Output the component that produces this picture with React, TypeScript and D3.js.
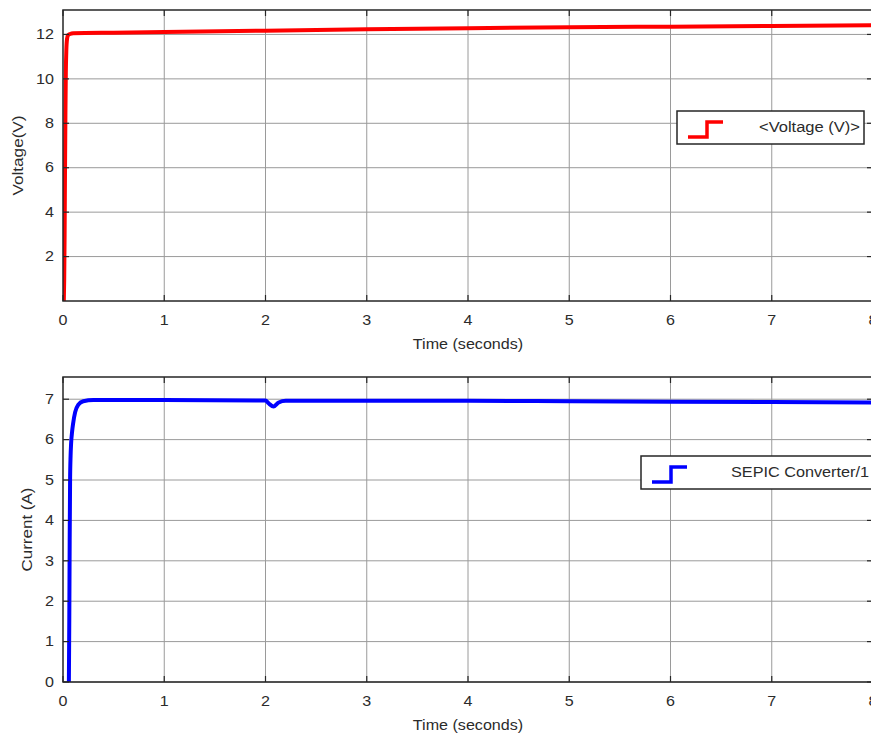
import React from "react";
import * as d3 from "d3";

const xTicks = [0, 1, 2, 3, 4, 5, 6, 7, 8];
const voltageTicks = [2, 4, 6, 8, 10, 12];
const currentTicks = [0, 1, 2, 3, 4, 5, 6, 7];

const voltageTime = [0.008, 0.012, 0.016, 0.02, 0.024, 0.028, 0.033, 0.04, 0.05, 0.07, 0.1, 0.5, 1, 2, 3, 4, 5, 6, 7, 8];
const voltageValues = [0, 1, 3, 6, 8.5, 10.3, 11.3, 11.8, 11.97, 12.02, 12.05, 12.08, 12.11, 12.17, 12.23, 12.28, 12.32, 12.35, 12.38, 12.41];

const currentTime = [0.058, 0.062, 0.066, 0.07, 0.075, 0.08, 0.09, 0.1, 0.12, 0.15, 0.2, 0.3, 1, 2, 2.03, 2.08, 2.13, 2.2, 3, 4, 5, 6, 7, 8];
const currentValues = [0, 1.5, 3.5, 5.0, 5.6, 5.9, 6.2, 6.4, 6.68, 6.86, 6.95, 6.98, 6.98, 6.97, 6.9, 6.82, 6.92, 6.96, 6.96, 6.96, 6.95, 6.94, 6.93, 6.92];

const FONT = "'Liberation Sans', Arial, sans-serif";
const SX = 1.15;

const x = d3.scaleLinear().domain([0, 8]).range([63, 873]);
const yV = d3.scaleLinear().domain([0, 13.1]).range([301, 10]);
const yC = d3.scaleLinear().domain([0, 7.55]).range([682, 377]);

function T({ x, y, children, anchor = "middle" }: any) {
  return (
    <g transform={`translate(${x},${y}) scale(${SX},1)`}>
      <text x={0} y={0} textAnchor={anchor} dominantBaseline="middle" fontFamily={FONT} fontSize={14} fill="#2b2b2b">
        {children}
      </text>
    </g>
  );
}

function Panel({ y, yTicks, times, values, color, yLabel, yLabelX, yLabelLen, legend, id }: any) {
  const [yb, yt] = y.range();
  const [xl, xr] = x.range();
  const line = d3
    .line<number>()
    .x((_, i) => x(times[i]))
    .y((v) => y(v))
    .curve(d3.curveMonotoneX);
  const tl = 6;
  const yMid = (yb + yt) / 2;
  return (
    <g>
      <defs>
        <clipPath id={id}>
          <rect x={xl} y={yt} width={xr - xl} height={yb - yt} />
        </clipPath>
      </defs>
      {xTicks.slice(1, -1).map((t) => (
        <line key={"gx" + t} x1={x(t)} x2={x(t)} y1={yt} y2={yb} stroke="#9a9a9a" strokeWidth={1} />
      ))}
      {yTicks.map((t: number) => (
        <line key={"gy" + t} x1={xl} x2={xr} y1={y(t)} y2={y(t)} stroke="#9a9a9a" strokeWidth={1} />
      ))}
      <path d={line(values) || ""} fill="none" stroke={color} strokeWidth={4} strokeLinejoin="round" clipPath={`url(#${id})`} />
      <rect x={xl} y={yt} width={xr - xl} height={yb - yt} fill="none" stroke="#262626" strokeWidth={1.5} />
      {xTicks.map((t) => (
        <g key={"tx" + t}>
          <line x1={x(t)} x2={x(t)} y1={yb} y2={yb - tl} stroke="#262626" strokeWidth={1.2} />
          <line x1={x(t)} x2={x(t)} y1={yt} y2={yt + tl} stroke="#262626" strokeWidth={1.2} />
        </g>
      ))}
      {yTicks.map((t: number) => (
        <g key={"ty" + t}>
          <line x1={xl} x2={xl + tl} y1={y(t)} y2={y(t)} stroke="#262626" strokeWidth={1.2} />
          <line x1={xr} x2={xr - tl} y1={y(t)} y2={y(t)} stroke="#262626" strokeWidth={1.2} />
        </g>
      ))}
      {xTicks.map((t) => (
        <T key={"lx" + t} x={x(t)} y={yb + 20}>
          {t}
        </T>
      ))}
      {yTicks.map((t: number) => (
        <T key={"ly" + t} x={54} y={y(t) + 1} anchor="end">
          {t}
        </T>
      ))}
      <T x={468} y={yb + 44}>
        Time (seconds)
      </T>
      <text
        transform={`translate(${yLabelX},${yMid}) rotate(-90)`}
        textAnchor="middle"
        dominantBaseline="middle"
        fontFamily={FONT}
        fontSize={14}
        fill="#2b2b2b"
        textLength={yLabelLen}
        lengthAdjust="spacingAndGlyphs"
      >
        {yLabel}
      </text>
      <rect x={legend.x} y={legend.y} width={legend.w} height={legend.h} fill="#fff" stroke="#262626" strokeWidth={1.5} />
      <path
        d={`M${legend.x + 11},${legend.y + legend.h - 7} H${legend.x + 30} V${legend.y + 11} H${legend.x + 46}`}
        fill="none"
        stroke={color}
        strokeWidth={3.5}
      />
      <text
        x={legend.x + legend.w - 4}
        y={legend.y + legend.h / 2 + 1}
        textAnchor="end"
        dominantBaseline="middle"
        fontFamily={FONT}
        fontSize={14}
        fill="#2b2b2b"
        textLength={legend.tl}
        lengthAdjust="spacingAndGlyphs"
      >
        {legend.text}
      </text>
    </g>
  );
}

export default function App() {
  return (
    <svg width={871} height={734} style={{ position: "absolute", left: 0, top: 0, background: "#fff" }}>
      <rect x={0} y={0} width={871} height={734} fill="#fff" />
      <Panel
        id="clipV"
        y={yV}
        yTicks={voltageTicks}
        times={voltageTime}
        values={voltageValues}
        color="#ff0000"
        yLabel="Voltage(V)"
        yLabelX={19}
        yLabelLen={80}
        legend={{ x: 677, y: 111, w: 187, h: 33, text: "<Voltage (V)>", tl: 101 }}
      />
      <Panel
        id="clipC"
        y={yC}
        yTicks={currentTicks}
        times={currentTime}
        values={currentValues}
        color="#0000ff"
        yLabel="Current (A)"
        yLabelX={28}
        yLabelLen={84}
        legend={{ x: 641, y: 456, w: 232, h: 33, text: "SEPIC Converter/1", tl: 138 }}
      />
    </svg>
  );
}
